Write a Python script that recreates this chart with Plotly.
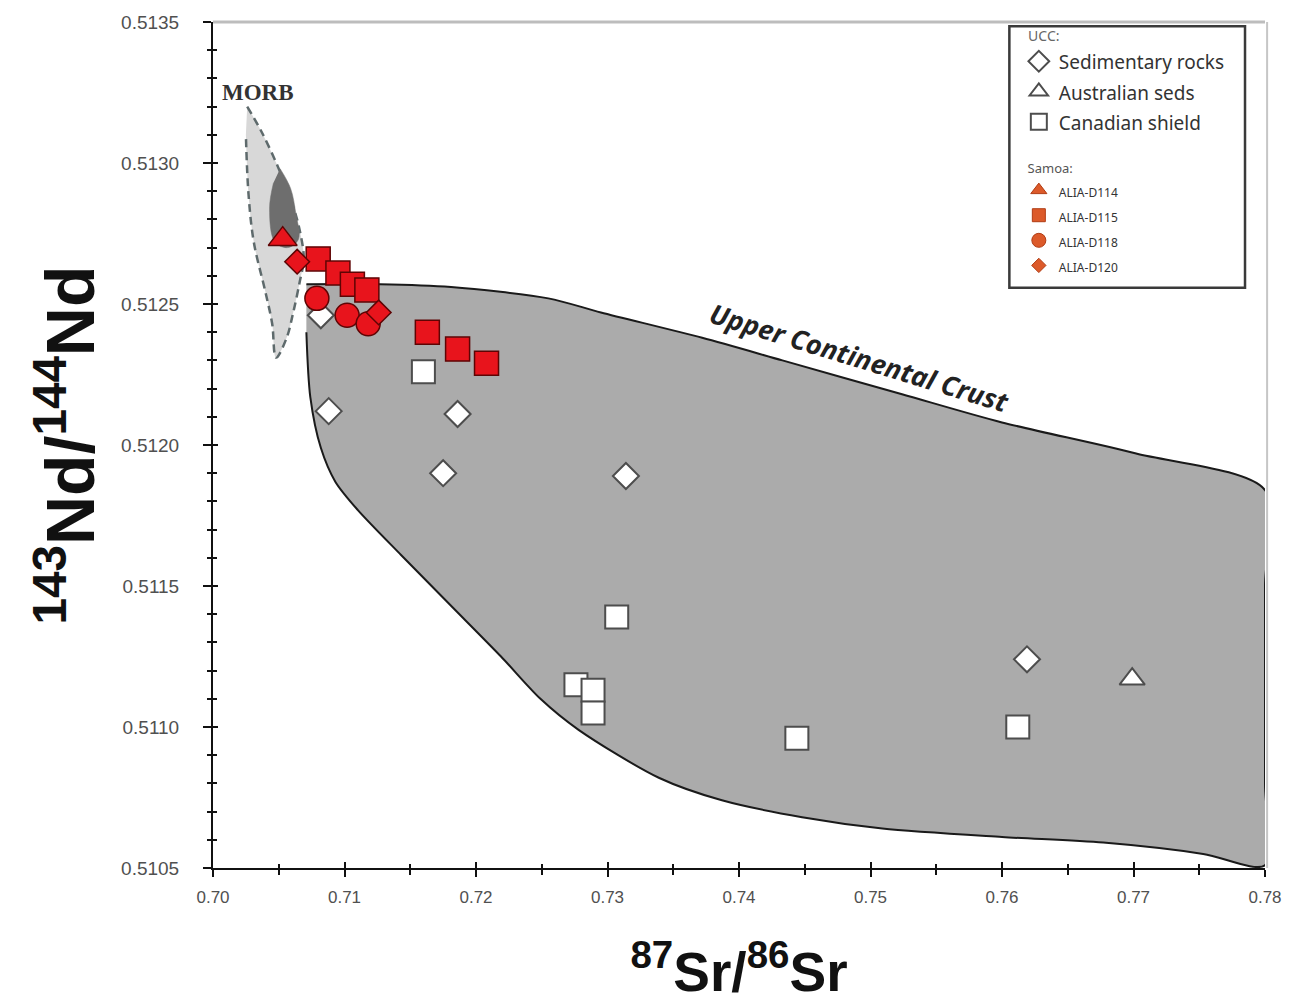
import plotly.graph_objects as go

# ---- axis ranges -------------------------------------------------------
X_RANGE = [0.70, 0.78]
Y_RANGE = [0.5105, 0.5135]

# ---- reference fields ----------------------------------------------------
# Upper Continental Crust envelope (clockwise)
ucc_sr = [0.7071, 0.7127, 0.7181, 0.7255, 0.7295, 0.7372, 0.7433, 0.7524, 0.7600,
          0.7702, 0.7800, 0.7800, 0.7800, 0.7800, 0.7753, 0.7677, 0.7600, 0.7509, 0.7448,
          0.7387, 0.7339, 0.7278, 0.7249, 0.7219, 0.7181, 0.7143, 0.7110, 0.7093, 0.7082,
          0.7074, 0.7071]
ucc_nd = [0.51257, 0.51257, 0.51256, 0.51252, 0.51247, 0.51238, 0.51230, 0.51218, 0.51208,
          0.51197, 0.51184, 0.51150, 0.51080, 0.51051, 0.51055, 0.51059, 0.51061, 0.51064, 0.51068,
          0.51074, 0.51082, 0.51099, 0.51110, 0.51125, 0.51143, 0.51161, 0.51177, 0.51187, 0.51199,
          0.51217, 0.51240]

# MORB field (outer dashed envelope)
morb_sr = [0.7026, 0.7037, 0.7050, 0.7060, 0.7066, 0.7069, 0.7066, 0.7061, 0.7056,
           0.7048, 0.7045, 0.7040, 0.7031, 0.7027, 0.7025]
morb_nd = [0.51320, 0.51311, 0.51298, 0.51286, 0.51276, 0.51266, 0.51258, 0.51247, 0.51238,
           0.51231, 0.51243, 0.51254, 0.51272, 0.51289, 0.51310]

# MORB dense core
core_sr = [0.7051, 0.7059, 0.7063, 0.7065, 0.7057, 0.7047, 0.7043, 0.7046]
core_nd = [0.51298, 0.51291, 0.51282, 0.51273, 0.51270, 0.51272, 0.51284, 0.51293]

# ---- UCC samples -----------------------------------------------------------
sed_sr = [0.7088, 0.7186, 0.7175, 0.7314, 0.7619, 0.7082]
sed_nd = [0.51212, 0.51211, 0.51190, 0.51189, 0.51124, 0.51246]

aus_sr = [0.7699]
aus_nd = [0.51117]

can_sr = [0.7160, 0.7307, 0.7276, 0.7289, 0.7289, 0.7444, 0.7612]
can_nd = [0.51226, 0.51139, 0.51115, 0.51113, 0.51105, 0.51096, 0.51100]

# ---- Samoa dredges ---------------------------------------------------------
d114_sr = [0.7053]
d114_nd = [0.51273]

d115_sr = [0.7080, 0.7095, 0.7106, 0.7117, 0.7163, 0.7186, 0.7208]
d115_nd = [0.51266, 0.51261, 0.51257, 0.51255, 0.51240, 0.51234, 0.51229]

d118_sr = [0.7079, 0.7102, 0.7118]
d118_nd = [0.51252, 0.51246, 0.51243]

d120_sr = [0.7064, 0.7126]
d120_nd = [0.51265, 0.51247]

samoa_names = ["ALIA-D114", "ALIA-D115", "ALIA-D118", "ALIA-D120"]
samoa_symbols = ["triangle-up", "square", "circle", "diamond"]

RED = "#e8141c"
RED_EDGE = "#5e0404"
ORANGE = "#dc5a2a"
ORANGE_EDGE = "#b03c14"
WHITE_EDGE = "#4d4d4d"

fig = go.Figure()

# fields
fig.add_trace(go.Scatter(x=ucc_sr, y=ucc_nd, mode="lines", fill="toself",
                         fillcolor="#ababab",
                         line=dict(color="#1a1a1a", width=2, shape="spline", smoothing=0.8),
                         showlegend=False, hoverinfo="skip"))
fig.add_trace(go.Scatter(x=morb_sr, y=morb_nd, mode="lines", fill="toself",
                         fillcolor="#d8d8d8",
                         line=dict(color="#5e6a6c", width=2.5, dash="8px,5px",
                                   shape="spline", smoothing=1.0),
                         showlegend=False, hoverinfo="skip"))
fig.add_trace(go.Scatter(x=core_sr, y=core_nd, mode="lines", fill="toself",
                         fillcolor="#6e6e6e",
                         line=dict(color="#6e6e6e", width=0.5, shape="spline", smoothing=1.0),
                         showlegend=False, hoverinfo="skip"))

# UCC samples
ucc_item = "<span style='font-size:19px'>%s</span>"
fig.add_trace(go.Scatter(x=sed_sr, y=sed_nd, mode="markers", name=ucc_item % "Sedimentary rocks",
                         marker=dict(symbol="diamond", size=20, color="white",
                                     line=dict(color=WHITE_EDGE, width=2)),
                         legend="legend"))
fig.add_trace(go.Scatter(x=aus_sr, y=aus_nd, mode="markers", name=ucc_item % "Australian seds",
                         marker=dict(symbol="triangle-up", size=22, color="white",
                                     line=dict(color=WHITE_EDGE, width=2)),
                         legend="legend"))
fig.add_trace(go.Scatter(x=can_sr, y=can_nd, mode="markers", name=ucc_item % "Canadian shield",
                         marker=dict(symbol="square", size=23, color="white",
                                     line=dict(color=WHITE_EDGE, width=2)),
                         legend="legend"))

# Samoa samples (drawn in red)
samoa_sr = [d114_sr, d115_sr, d118_sr, d120_sr]
samoa_nd = [d114_nd, d115_nd, d118_nd, d120_nd]
samoa_sizes = [25, 24, 24, 19]
for xs, ys, sym, sz in zip(samoa_sr, samoa_nd, samoa_symbols, samoa_sizes):
    fig.add_trace(go.Scatter(x=xs, y=ys, mode="markers", showlegend=False,
                             marker=dict(symbol=sym, size=sz, color=RED,
                                         line=dict(color=RED_EDGE, width=1.5))))

# Samoa legend keys
samoa_key_sizes = [14, 13, 14, 11]
for name, sym, sz in zip(samoa_names, samoa_symbols, samoa_key_sizes):
    fig.add_trace(go.Scatter(x=[None], y=[None], mode="markers",
                             name="<span style='font-size:12px'>%s</span>" % name,
                             marker=dict(symbol=sym, size=sz, color=ORANGE,
                                         line=dict(color=ORANGE_EDGE, width=1)),
                             legend="legend2"))

# helper trace so the overlay axes (inner tick halves) get drawn
fig.add_trace(go.Scatter(x=[X_RANGE[0]], y=[Y_RANGE[0]], xaxis="x2", yaxis="y2",
                         mode="markers", marker=dict(opacity=0), showlegend=False,
                         hoverinfo="skip"))

x_tick_font = dict(family="Liberation Sans, Arial, sans-serif", size=17, color="#505050")
y_tick_font = dict(family="Liberation Sans, Arial, sans-serif", size=19, color="#505050")
x_title_font = dict(family="Liberation Sans, Arial, sans-serif", size=55, color="#111111")
y_title_font = dict(family="Liberation Sans, Arial, sans-serif", size=68, color="#111111")

fig.update_layout(
    width=1296, height=1006,
    margin=dict(l=213, r=31, t=18, b=138),
    paper_bgcolor="white", plot_bgcolor="white",
    font=dict(family="Liberation Sans, Arial, sans-serif"),
    xaxis=dict(range=X_RANGE, dtick=0.01, tick0=0.70, tickformat=".2f",
               ticks="outside", ticklen=7, tickwidth=1.8, tickcolor="#111",
               minor=dict(dtick=0.005, ticks="outside", ticklen=5, tickwidth=1.5, tickcolor="#111"),
               showline=True, linecolor="#111", linewidth=2, ticklabelstandoff=6,
               showgrid=False, zeroline=False, tickfont=x_tick_font,
               title=dict(text="<b><sup>87</sup>Sr/<sup>86</sup>Sr</b>", font=x_title_font, standoff=46)),
    yaxis=dict(range=Y_RANGE, dtick=0.0005, tick0=0.5105, tickformat=".4f",
               ticks="outside", ticklen=8, tickwidth=1.8, tickcolor="#111",
               minor=dict(dtick=0.0001, ticks="outside", ticklen=4, tickwidth=1.5, tickcolor="#111"),
               showline=True, linecolor="#111", linewidth=2, ticklabelstandoff=20,
               showgrid=False, zeroline=False, tickfont=y_tick_font,
               title=dict(text="<b><sup>143</sup>Nd/<sup>144</sup>Nd</b>", font=y_title_font, standoff=4)),
    xaxis2=dict(range=X_RANGE, overlaying="x", anchor="y2", side="bottom",
                dtick=0.01, tick0=0.70, ticks="inside", ticklen=6, tickwidth=1.8, tickcolor="#111",
                minor=dict(dtick=0.005, ticks="inside", ticklen=4, tickwidth=1.5, tickcolor="#111"),
                showticklabels=False, showline=False, showgrid=False, zeroline=False),
    yaxis2=dict(range=Y_RANGE, overlaying="y", anchor="x2", side="left",
                dtick=0.0005, tick0=0.5105, ticks="inside", ticklen=5, tickwidth=1.8, tickcolor="#111",
                minor=dict(dtick=0.0001, ticks="inside", ticklen=4, tickwidth=1.5, tickcolor="#111"),
                showticklabels=False, showline=False, showgrid=False, zeroline=False),
    legend=dict(x=0.766, y=0.999, xanchor="left", yanchor="top",
                bgcolor="rgba(0,0,0,0)", borderwidth=0,
                font=dict(family="Noto Sans, sans-serif", size=21, color="#333"),
                title=dict(text="&nbsp;&nbsp;UCC:", font=dict(size=14, color="#666")),
                itemsizing="trace"),
    legend2=dict(x=0.766, y=0.842, xanchor="left", yanchor="top",
                 bgcolor="rgba(0,0,0,0)", borderwidth=0,
                 font=dict(family="Noto Sans, sans-serif", size=17, color="#333"),
                 title=dict(text="&nbsp;&nbsp;Samoa:", font=dict(size=13, color="#555")),
                 itemsizing="trace"),
    shapes=[
        # legend frame
        dict(type="rect", xref="paper", yref="paper", x0=0.757, x1=0.981, y0=0.686, y1=0.995,
             line=dict(color="#3a3a3a", width=2.5), fillcolor="white", layer="above"),
        # light top and right frame
        dict(type="line", xref="paper", yref="paper", x0=0, x1=1, y0=1, y1=1,
             line=dict(color="#bdbdbd", width=3)),
        dict(type="line", xref="paper", yref="paper", x0=1.002, x1=1.002, y0=0, y1=1,
             line=dict(color="#c6c6c6", width=2)),
    ],
    annotations=[
        dict(x=0.7034, y=0.51325, xref="x", yref="y", text="<b>MORB</b>", showarrow=False,
             font=dict(family="Liberation Serif, Times New Roman, serif", size=23, color="#333")),
        dict(x=0.7492, y=0.51231, xref="x", yref="y", text="<b><i>Upper Continental Crust</i></b>",
             showarrow=False, textangle=17,
             font=dict(family="Open Sans, sans-serif", size=27, color="#222")),
    ],
)

fig.write_html("out.html")
